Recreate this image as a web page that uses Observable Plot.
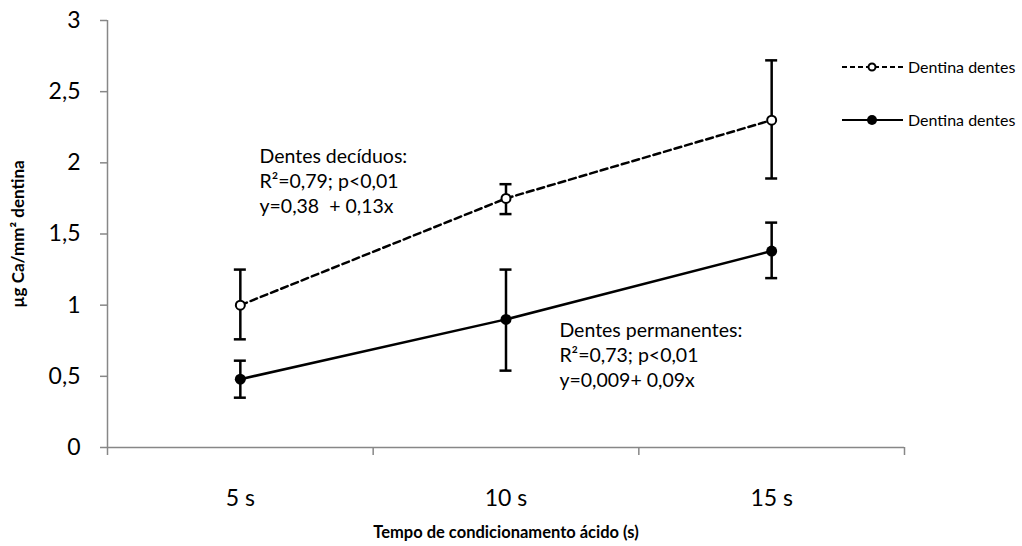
<!DOCTYPE html>
<html>
<head>
<meta charset="utf-8">
<script src="https://cdn.jsdelivr.net/npm/d3@7"></script>
<script src="https://cdn.jsdelivr.net/npm/@observablehq/plot@0.6"></script>
<style>
  html, body { margin: 0; padding: 0; background: #fff; }
  #chart svg { font-family: Lato, "Open Sans", sans-serif; }
  #chart text { white-space: pre; }
</style>
</head>
<body>
<div id="chart"></div>
<script>
// ---- data ----
const xCats = ["5 s", "10 s", "15 s"];
const yTicks = [0, 0.5, 1, 1.5, 2, 2.5, 3];
const decMean = [1.0, 1.75, 2.30];
const decLo = [0.76, 1.64, 1.89];
const decHi = [1.25, 1.85, 2.72];
const permMean = [0.48, 0.90, 1.38];
const permLo = [0.35, 0.54, 1.19];
const permHi = [0.61, 1.25, 1.58];
const legendLabels = ["Dentina dentes", "Dentina dentes"];
const yLabel = "µg Ca/mm² dentina";
const xLabel = "Tempo de condicionamento ácido (s)";
const annotations = [
  {x: 0.572, y: 2.12, text: "Dentes decíduos:\nR²=0,79; p<0,01\ny=0,38  + 0,13x"},
  {x: 1.701, y: 0.90, text: "Dentes permanentes:\nR²=0,73; p<0,01\ny=0,009+ 0,09x"}
];

const dec = xCats.map((c, i) => ({x: i + 0.5, cat: c, v: decMean[i], lo: decLo[i], hi: decHi[i]}));
const perm = xCats.map((c, i) => ({x: i + 0.5, cat: c, v: permMean[i], lo: permLo[i], hi: permHi[i]}));

const gray = "#878787";

const chart = Plot.plot({
  width: 1022,
  height: 546,
  marginLeft: 107,
  marginRight: 118,
  marginTop: 20,
  marginBottom: 99,
  x: {domain: [0, 3]},
  y: {domain: [0, 3]},
  marks: [
    Plot.ruleX([0], {stroke: gray, strokeWidth: 1.5}),
    Plot.ruleY([0], {stroke: gray, strokeWidth: 1.5}),
    Plot.axisY({ticks: yTicks, tickFormat: d => String(d).replace(".", ","), tickSize: 7, tickPadding: 20, fontSize: 23, stroke: gray, strokeWidth: 1.5, fill: "#000", label: null}),
    Plot.axisX({ticks: [0, 1, 2, 3], tickFormat: () => "", tickSize: 8, stroke: gray, strokeWidth: 1.5, label: null}),
    Plot.axisX({ticks: [0.5, 1.5, 2.5], tickFormat: d => xCats[Math.round(d - 0.5)], tickSize: 0, tickPadding: 42, fontSize: 23, fill: "#000", label: null}),
    // error bars
    Plot.ruleX(dec, {x: "x", y1: "lo", y2: "hi", stroke: "#000", strokeWidth: 2.5}),
    Plot.ruleY(dec, {x1: "x", x2: "x", y: "lo", insetLeft: -6, insetRight: -6, stroke: "#000", strokeWidth: 2.5}),
    Plot.ruleY(dec, {x1: "x", x2: "x", y: "hi", insetLeft: -6, insetRight: -6, stroke: "#000", strokeWidth: 2.5}),
    Plot.ruleX(perm, {x: "x", y1: "lo", y2: "hi", stroke: "#000", strokeWidth: 2.5}),
    Plot.ruleY(perm, {x1: "x", x2: "x", y: "lo", insetLeft: -6, insetRight: -6, stroke: "#000", strokeWidth: 2.5}),
    Plot.ruleY(perm, {x1: "x", x2: "x", y: "hi", insetLeft: -6, insetRight: -6, stroke: "#000", strokeWidth: 2.5}),
    // lines
    Plot.line(dec, {x: "x", y: "v", stroke: "#000", strokeWidth: 2.5, strokeDasharray: "7,4"}),
    Plot.line(perm, {x: "x", y: "v", stroke: "#000", strokeWidth: 2.5}),
    Plot.dot(dec, {x: "x", y: "v", r: 4.5, fill: "#fff", stroke: "#000", strokeWidth: 2}),
    Plot.dot(perm, {x: "x", y: "v", r: 5.5, fill: "#000", stroke: "none"}),
    // annotations
    Plot.text(annotations, {x: "x", y: "y", text: "text", textAnchor: "start", lineAnchor: "top", lineHeight: 1.28, fontSize: 19.5, fill: "#000"}),
    // axis titles
    Plot.text([yLabel], {frameAnchor: "left", textAnchor: "middle", lineAnchor: "middle", rotate: -90, dx: -89, fontSize: 17, fontWeight: "bold", fill: "#000"}),
    Plot.text([xLabel], {frameAnchor: "bottom", textAnchor: "middle", lineAnchor: "middle", dy: 85, fontSize: 16.5, fontWeight: "bold", fill: "#000"})
  ]
});

// legend
const svg = d3.select(chart);
const lg = svg.append("g").attr("text-anchor", "start");
const rows = [
  {y: 67, dash: "5,3", fill: "#fff", r: 3.5, sw: 2},
  {y: 120, dash: null, fill: "#000", r: 5, sw: 0}
];
rows.forEach((row, i) => {
  lg.append("line").attr("x1", 842).attr("x2", 903).attr("y1", row.y).attr("y2", row.y)
    .attr("stroke", "#000").attr("stroke-width", 2.2).attr("stroke-dasharray", row.dash);
  lg.append("circle").attr("cx", 872).attr("cy", row.y).attr("r", row.r)
    .attr("fill", row.fill).attr("stroke", row.sw ? "#000" : "none").attr("stroke-width", row.sw);
  lg.append("text").attr("x", 908).attr("y", row.y).attr("dy", "0.35em")
    .attr("font-size", 16).attr("fill", "#000").text(legendLabels[i]);
});

document.getElementById("chart").appendChild(chart);
</script>
</body>
</html>
